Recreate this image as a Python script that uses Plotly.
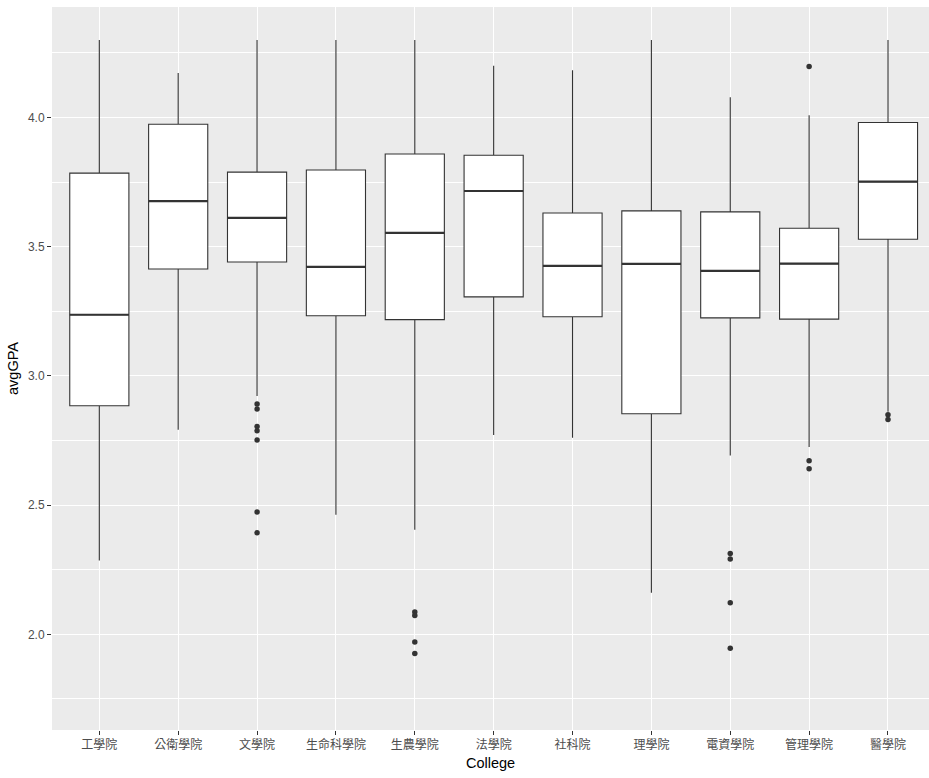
import plotly.graph_objects as go

colleges = ["工學院", "公衛學院", "文學院", "生命科學院", "生農學院", "法學院",
            "社科院", "理學院", "電資學院", "管理學院", "醫學院"]
upper_whisker = [4.300, 4.173, 4.300, 4.300, 4.300, 4.201, 4.183, 4.300, 4.079, 4.009, 4.300]
q3_vals = [3.785, 3.974, 3.789, 3.797, 3.859, 3.854, 3.631, 3.639, 3.635, 3.572, 3.981]
medians = [3.237, 3.677, 3.612, 3.422, 3.554, 3.716, 3.426, 3.434, 3.407, 3.435, 3.752]
q1_vals = [2.885, 3.414, 3.441, 3.233, 3.218, 3.306, 3.229, 2.854, 3.225, 3.220, 3.529]
lower_whisker = [2.286, 2.792, 2.923, 2.463, 2.405, 2.772, 2.761, 2.161, 2.692, 2.725, 2.862]
outliers = {
    "文學院": [2.892, 2.872, 2.805, 2.788, 2.752, 2.474, 2.393],
    "生農學院": [2.087, 2.073, 1.971, 1.926],
    "電資學院": [2.313, 2.292, 2.122, 1.946],
    "管理學院": [4.198, 2.672, 2.641],
    "醫學院": [2.850, 2.832],
}

pos = list(range(len(colleges)))
box_w = 0.75
dark = "#333333"

fig = go.Figure()
fig.add_trace(go.Box(
    x=pos, q1=q1_vals, median=medians, q3=q3_vals,
    lowerfence=lower_whisker, upperfence=upper_whisker,
    width=box_w, fillcolor="white", line=dict(color=dark, width=1.1),
    whiskerwidth=0, boxpoints=False, showlegend=False, hoverinfo="skip",
))

# thicker median lines (ggplot fatten)
mx, my = [], []
for p, m in zip(pos, medians):
    mx += [p - box_w / 2, p + box_w / 2, None]
    my += [m, m, None]
fig.add_trace(go.Scatter(x=mx, y=my, mode="lines",
                         line=dict(color=dark, width=2.2), showlegend=False, hoverinfo="skip"))

ox, oy = [], []
for c, vals in outliers.items():
    i = colleges.index(c)
    ox += [i] * len(vals)
    oy += vals
fig.add_trace(go.Scatter(x=ox, y=oy, mode="markers",
                         marker=dict(color=dark, size=5.5), showlegend=False, hoverinfo="skip"))

font_fam = "Liberation Sans, Arial, Noto Sans CJK TC, sans-serif"
fig.update_layout(
    width=929, height=778,
    margin=dict(l=52, r=0, t=7, b=48),
    paper_bgcolor="white", plot_bgcolor="#EBEBEB",
    font=dict(family=font_fam, color="#4D4D4D", size=12),
    xaxis=dict(
        range=[-0.6, 10.52], tickmode="array", tickvals=pos, ticktext=colleges,
        showgrid=True, gridcolor="white", gridwidth=1.1, zeroline=False,
        ticks="outside", ticklen=4, tickcolor=dark, tickwidth=1.1,
        tickfont=dict(family="Noto Sans CJK TC, sans-serif", size=12, color="#4D4D4D"),
        title=dict(text="College", font=dict(family=font_fam, size=14.5, color="black"), standoff=6),
        showline=False,
    ),
    yaxis=dict(
        range=[1.630, 4.428], tickmode="linear", tick0=0, dtick=0.5, tickformat=".1f",
        showgrid=True, gridcolor="white", gridwidth=1.1, zeroline=False,
        ticks="outside", ticklen=4, tickcolor=dark, tickwidth=1.1,
        tickfont=dict(size=12, color="#4D4D4D"),
        minor=dict(tick0=0.25, dtick=0.5, showgrid=True, gridcolor="white", gridwidth=0.55, ticks=""),
        title=dict(text="avgGPA", font=dict(family=font_fam, size=14.5, color="black"), standoff=5),
        showline=False,
    ),
)

fig.write_html("out.html", config={"displayModeBar": False},
               post_script="document.body.style.margin='0';document.body.style.overflow='hidden';")
